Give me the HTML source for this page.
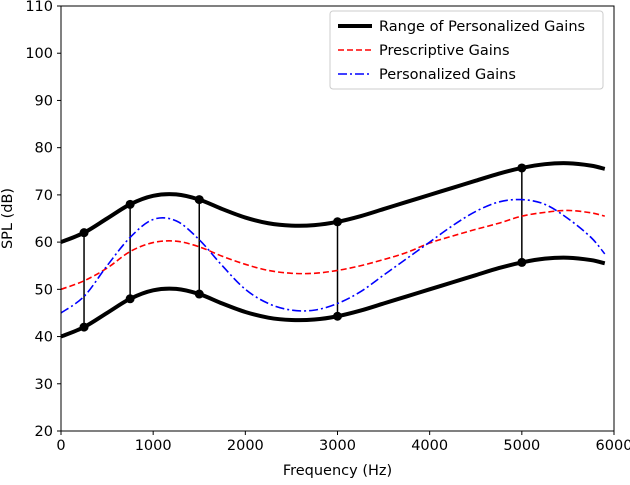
<!DOCTYPE html>
<html><head><meta charset="utf-8"><style>
body{margin:0;background:#fff;}
svg{font-family:"DejaVu Sans","Liberation Sans",sans-serif;}
</style></head><body>
<svg id="chart" width="630" height="480" viewBox="0 0 630 480" xmlns="http://www.w3.org/2000/svg">
<g id="plot"></g>
</svg>
<script>
const freqs=[0,250,500,750,1000,1250,1500,1750,2000,2250,2500,2750,3000,3250,3500,3750,4000,4250,4500,4750,5000,5250,5500,5750,5900];
const upperGain=[60,62,65,68,69.8,70.1,69,67,65.2,64,63.5,63.6,64.3,65.5,67,68.5,70,71.5,73,74.5,75.7,76.5,76.7,76.2,75.5];
const lowerGain=[40,42,45,48,49.8,50.1,49,47,45.2,44,43.5,43.6,44.3,45.5,47,48.5,50,51.5,53,54.5,55.7,56.5,56.7,56.2,55.5];
const prescriptive=[50,51.8,54.5,58,59.9,60.2,59,57,55.3,54,53.4,53.4,54,55,56.3,57.8,59.8,61.3,62.7,64,65.5,66.3,66.7,66.2,65.5];
const personalized=[45,48.5,55,61,64.8,64.5,60.5,55,50,47,45.6,45.6,47,49.5,53,56.5,60,63.5,66.5,68.5,69,68,65,61,57.5];
const markerFreqs=[250,750,1500,3000,5000];
const markerUpper=[62,68,69,64.3,75.7];
const markerLower=[42,48,49,44.3,55.7];
const xTicks=[0,1000,2000,3000,4000,5000,6000];
const yTicks=[20,30,40,50,60,70,80,90,100,110];

const L=61,R=614,T=6,B=431;
const FS=14.5;
const xs=v=>L+(v/6000)*(R-L);
const ys=v=>B-(v-20)/90*(B-T);
const NS="http://www.w3.org/2000/svg";
const g=document.getElementById('plot');
function el(tag,attrs,parent){const e=document.createElementNS(NS,tag);for(const k in attrs)e.setAttribute(k,attrs[k]);(parent||g).appendChild(e);return e;}
function smooth(xv,yv){
  const p=xv.map((x,i)=>[xs(x),ys(yv[i])]);
  let d=`M${p[0][0]},${p[0][1]}`;
  for(let i=0;i<p.length-1;i++){
    const p0=p[i-1]||p[i],p1=p[i],p2=p[i+1],p3=p[i+2]||p2;
    const c1=[p1[0]+(p2[0]-p0[0])/6,p1[1]+(p2[1]-p0[1])/6];
    const c2=[p2[0]-(p3[0]-p1[0])/6,p2[1]-(p3[1]-p1[1])/6];
    d+=` C${c1[0]},${c1[1]} ${c2[0]},${c2[1]} ${p2[0]},${p2[1]}`;
  }
  return d;
}
xTicks.forEach(v=>{
  const t=el('line',{x1:xs(v),x2:xs(v),y1:B,y2:B+4,stroke:'#000'});
  
  const l=el('text',{x:xs(v),y:B+19,'text-anchor':'middle','font-size':FS});
  l.textContent=v;
  
});
yTicks.forEach(v=>{
  const t=el('line',{x1:L-4,x2:L,y1:ys(v),y2:ys(v),stroke:'#000'});
  
  const l=el('text',{x:L-8,y:ys(v)+5,'text-anchor':'end','font-size':FS});
  l.textContent=v;
  
});
markerFreqs.forEach((f,i)=>{
  const v=el('line',{x1:xs(f),x2:xs(f),y1:ys(markerUpper[i]),y2:ys(markerLower[i]),stroke:'#000','stroke-width':1.5});
  
});
const up=el('path',{d:smooth(freqs,upperGain),fill:'none',stroke:'#000','stroke-width':4});

const lo=el('path',{d:smooth(freqs,lowerGain),fill:'none',stroke:'#000','stroke-width':4});

const pr=el('path',{d:smooth(freqs,prescriptive),fill:'none',stroke:'#f00','stroke-width':1.6,'stroke-dasharray':'6,3'});

const pe=el('path',{d:smooth(freqs,personalized),fill:'none',stroke:'#00f','stroke-width':1.6,'stroke-dasharray':'9,3,2,3'});

markerFreqs.forEach((f,i)=>{
  const a=el('circle',{cx:xs(f),cy:ys(markerUpper[i]),r:4.5,fill:'#000'});
  
  const b=el('circle',{cx:xs(f),cy:ys(markerLower[i]),r:4.5,fill:'#000'});
  
});
const fr=el('rect',{x:L,y:T,width:R-L,height:B-T,fill:'none',stroke:'#000','stroke-width':1});

const xt=el('text',{x:(L+R)/2,y:475,'text-anchor':'middle','font-size':FS});
xt.textContent='Frequency (Hz)';

const yt=el('text',{x:12,y:(T+B)/2,'text-anchor':'middle','font-size':FS,transform:`rotate(-90 12 ${(T+B)/2})`});
yt.textContent='SPL (dB)';

const lg=el('g',{});

el('rect',{x:330,y:11,width:273,height:78,rx:3,fill:'#fff',stroke:'#ccc'},lg);
const entries=[['Range of Personalized Gains','#000',4,'none'],['Prescriptive Gains','#f00',1.6,'6,3'],['Personalized Gains','#00f',1.6,'9,3,2,3']];
entries.forEach((e,i)=>{
  const y=26+i*24;
  const eg=el('g',{},lg);
  
  el('line',{x1:338,x2:372,y1:y,y2:y,stroke:e[1],'stroke-width':e[2],'stroke-dasharray':e[3]},eg);
  const t=el('text',{x:379,y:y+5,'font-size':FS},eg);
  t.textContent=e[0];
});
</script>
</body></html>
